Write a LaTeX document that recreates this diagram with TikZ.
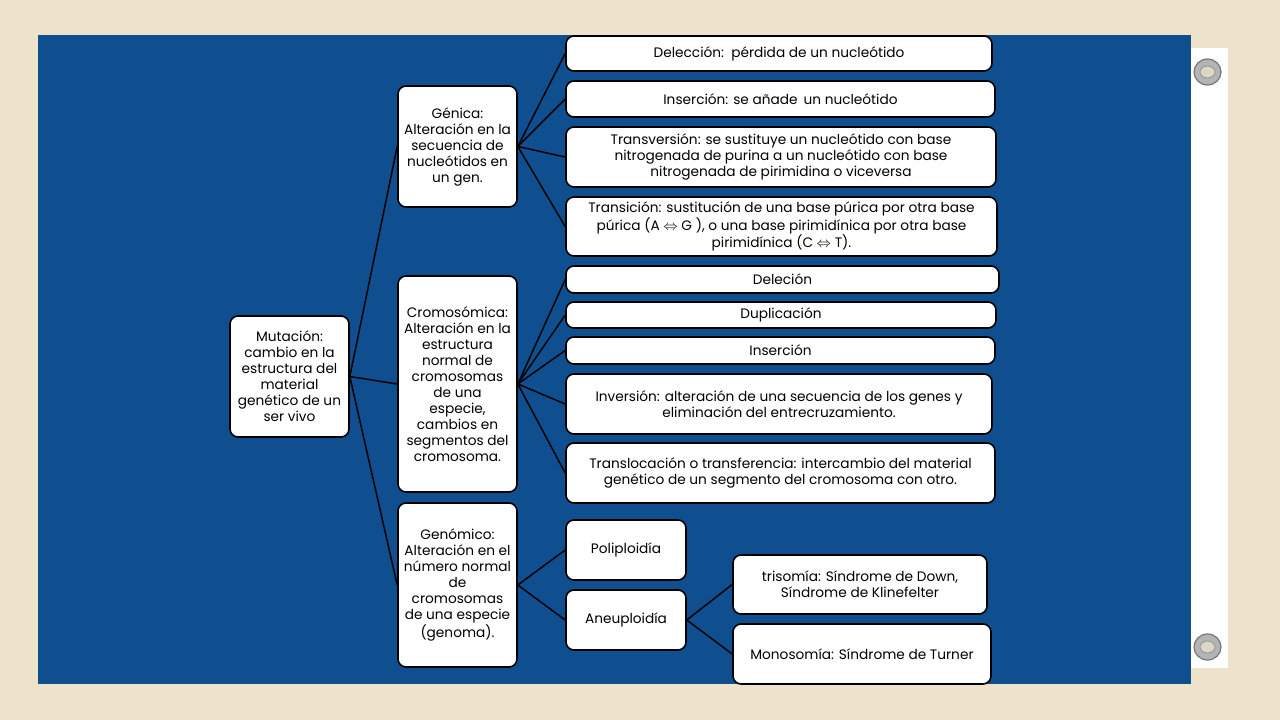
\documentclass[tikz,border=0pt]{standalone}
\usepackage{fontspec}
\setmainfont{Poppins}
\definecolor{canvas}{HTML}{EDE3CB}
\definecolor{slide}{HTML}{0F4F90}
\definecolor{ring}{HTML}{B4B4B4}
\definecolor{rim}{HTML}{777777}
\definecolor{hole}{HTML}{DCD6C6}
\begin{document}
\begin{tikzpicture}[x=1pt,y=-1pt,
 box/.style={draw=black,line width=1.6pt,fill=white,rounded corners=8pt,align=center,inner sep=0pt,font=\fontsize{13.7}{16}\selectfont},
 link/.style={line width=1.5pt}]
\fill[canvas] (0,0) rectangle (1280,720);
\fill[white] (1150,48) rectangle (1228,668);
\fill[slide] (38,35) rectangle (1191,684);
\foreach \y in {72,647} {
 \filldraw[fill=ring,draw=rim,line width=1.2pt] (1207.5,\y) ellipse (13.5 and 13);
 \filldraw[fill=hole,draw=rim!80,line width=0.8pt] (1207.5,\y) ellipse (7.5 and 6);
}
\node[box,minimum width=119pt,minimum height=121pt] (mut) at (289.5,376.5) {Mutación:\\cambio en la\\estructura del\\material\\genético de un\\ser vivo};
\node[box,minimum width=119pt,minimum height=121pt] (gen) at (457.5,146.5) {Génica:\\Alteración en la\\secuencia de\\nucleótidos en\\un gen.};
\node[box,minimum width=119pt,minimum height=216pt] (cro) at (457.5,384) {Cromosómica:\\Alteración en la\\estructura\\normal de\\cromosomas\\de una\\especie,\\cambios en\\segmentos del\\cromosoma.};
\node[box,minimum width=119pt,minimum height=164pt] (gno) at (457.5,585) {Genómico:\\Alteración en el\\número normal\\de\\cromosomas\\de una especie\\(genoma).};
\node[box,minimum width=426pt,minimum height=35pt] (dlc) at (779,53.5) {Delección:\, pérdida de un nucleótido};
\node[box,minimum width=429pt,minimum height=36pt] (ins) at (780.5,99) {Inserción: se añade\, un nucleótido};
\node[box,minimum width=430pt,minimum height=60pt] (tvs) at (781,157) {Transversión: se sustituye un nucleótido con base\\nitrogenada de purina a un nucleótido con base\\nitrogenada de pirimidina o viceversa};
\node[box,minimum width=431pt,minimum height=59pt] (tsn) at (781.5,226.5) {Transición: sustitución de una base púrica por otra base\\púrica (A $\Leftrightarrow$ G ), o una base pirimidínica por otra base\\pirimidínica (C $\Leftrightarrow$ T).};
\node[box,minimum width=433pt,minimum height=27pt] (del) at (782.5,279.5) {Deleción};
\node[box,minimum width=430pt,minimum height=26pt] (dup) at (781,315) {Duplicación};
\node[box,minimum width=429pt,minimum height=27pt] (ins2) at (780.5,350.5) {Inserción};
\node[box,minimum width=426pt,minimum height=60pt] (inv) at (779,404) {Inversión: alteración de una secuencia de los genes y\\eliminación del entrecruzamiento.};
\node[box,minimum width=429pt,minimum height=60pt] (trl) at (780.5,473) {Translocación o transferencia: intercambio del material\\genético de un segmento del cromosoma con otro.};
\node[box,minimum width=120pt,minimum height=60pt] (pol) at (626,550) {Poliploidía};
\node[box,minimum width=120pt,minimum height=60pt] (ane) at (626,620) {Aneuploidía};
\node[box,minimum width=254pt,minimum height=59pt] (tri) at (860,584.5) {trisomía: Síndrome de Down,\\Síndrome de Klinefelter};
\node[box,minimum width=258pt,minimum height=60pt] (mon) at (862,654) {Monosomía: Síndrome de Turner};
\foreach \t in {gen,cro,gno} \draw[link] (mut.east) -- (\t.west);
\foreach \t in {dlc,ins,tvs,tsn} \draw[link] (gen.east) -- (\t.west);
\foreach \t in {del,dup,ins2,inv,trl} \draw[link] (cro.east) -- (\t.west);
\foreach \t in {pol,ane} \draw[link] (gno.east) -- (\t.west);
\foreach \t in {tri,mon} \draw[link] (ane.east) -- (\t.west);
\end{tikzpicture}
\end{document}
